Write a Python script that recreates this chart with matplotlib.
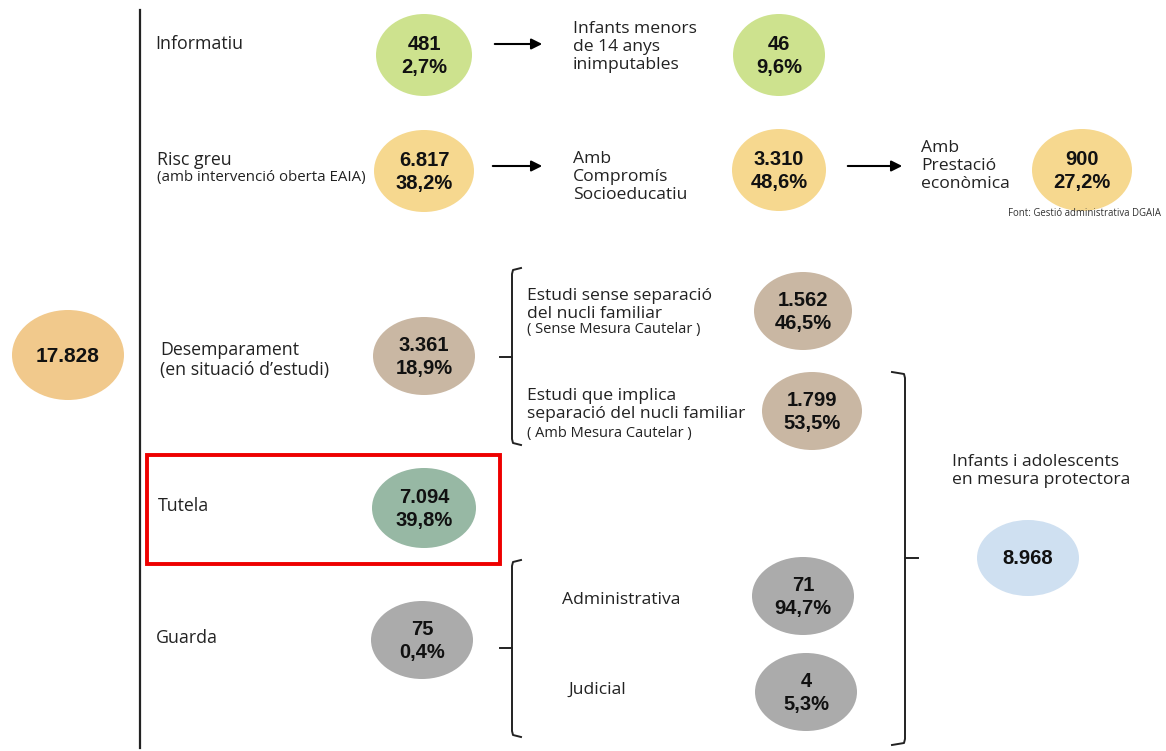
#!/usr/bin/env python3

import matplotlib.pyplot as plt
from matplotlib.patches import Ellipse, Rectangle

# ---- data ---------------------------------------------------------------
total = '17.828'
node_values = ['481', '46', '6.817', '3.310', '900', '3.361', '1.562', '1.799',
               '7.094', '75', '71', '4', '8.968']
node_pcts = ['2,7%', '9,6%', '38,2%', '48,6%', '27,2%', '18,9%', '46,5%', '53,5%',
             '39,8%', '0,4%', '94,7%', '5,3%', '']
node_colors = ['#cde28e', '#cde28e', '#f6d88f', '#f6d88f', '#f6d88f', '#c9b7a3',
               '#c9b7a3', '#c9b7a3', '#97b8a4', '#ababab', '#ababab', '#ababab',
               '#cfe0f1']

main_labels = ['Informatiu', 'Risc greu', 'Desemparament\n(en situació d\u2019estudi)',
               'Tutela', 'Guarda']
main_sub = ['', '(amb intervenció oberta EAIA)', '', '', '']
sub_labels = ['Infants menors\nde 14 anys\ninimputables', 'Amb\nCompromís\nSocioeducatiu',
              'Amb\nPrestació\neconòmica', 'Administrativa', 'Judicial',
              'Infants i adolescents\nen mesura protectora']
estudi_labels = ['Estudi sense separació\ndel nucli familiar',
                 'Estudi que implica\nseparació del nucli familiar']
estudi_sub = ['( Sense Mesura Cautelar )', '( Amb Mesura Cautelar )']
source = 'Font: Gestió administrativa DGAIA'

# ---- layout (pixel space) -----------------------------------------------
node_xy = [(424, 55), (779, 55), (424, 171), (779, 170), (1082, 170), (424, 356),
           (803, 311), (812, 411), (424, 508), (422, 640), (803, 596), (806, 692),
           (1028, 558)]
node_wh = [(96, 82), (92, 82), (100, 82), (94, 82), (100, 82), (102, 78),
           (98, 78), (100, 78), (104, 80), (102, 78), (102, 78), (102, 78),
           (102, 76)]
main_xy = [(155, 44), (157, 160), (160, 360), (158, 506), (156, 638)]
sub_xy = [(573, 47), (573, 177), (921, 166), (562, 600), (568, 690), (952, 471)]
estudi_xy = [(527, 305), (527, 405)]
estudi_sub_xy = [(527, 329), (527, 433)]

FONT = ['Open Sans', 'DejaVu Sans']
BOLD = ['Liberation Sans', 'DejaVu Sans']
W, H = 1166, 751

fig = plt.figure(figsize=(W / 100, H / 100), dpi=100)
ax = fig.add_axes([0, 0, 1, 1])
ax.set_xlim(0, W)
ax.set_ylim(H, 0)
ax.axis('off')

# total node
ax.add_patch(Ellipse((68, 355), 112, 90, color='#f1c98c', lw=0))
ax.text(68, 356, total, ha='center', va='center', fontsize=15,
        fontweight='bold', family=BOLD, color='#111111')

# trunk line
ax.plot([140, 140], [10, 748], color='#222222', lw=1.6)

for (x, y), (w, h), v, p, c in zip(node_xy, node_wh, node_values, node_pcts, node_colors):
    ax.add_patch(Ellipse((x, y), w, h, color=c, lw=0))
    txt = v if not p else v + '\n' + p
    ax.text(x, y + 1, txt, ha='center', va='center', fontsize=14.5,
            fontweight='bold', family=BOLD, linespacing=1.28, color='#111111')

for (x, y), lab, sub in zip(main_xy, main_labels, main_sub):
    ax.text(x, y, lab, ha='left', va='center', fontsize=12.8, family=FONT,
            linespacing=1.1, color='#222222')
    if sub:
        ax.text(x, y + 18, sub, ha='left', va='center', fontsize=10.8,
                family=FONT, color='#222222')

for (x, y), lab in zip(sub_xy, sub_labels):
    ax.text(x, y, lab, ha='left', va='center', fontsize=12.6, family=FONT,
            linespacing=1.15, color='#222222')

for (x, y), lab, sub in zip(estudi_xy, estudi_labels, estudi_sub):
    ax.text(x, y, lab, ha='left', va='center', fontsize=12.6, family=FONT,
            linespacing=1.2, color='#222222')
for (x, y), sub in zip(estudi_sub_xy, estudi_sub):
    ax.text(x, y, sub, ha='left', va='center', fontsize=10.5, family=FONT,
            color='#222222')

ax.text(1085, 214, source, ha='center', va='center', fontsize=6.9,
        family=FONT, color='#333333')

# arrows
for x0, x1, y in [(492, 545, 44), (490, 545, 166), (845, 905, 166)]:
    ax.annotate('', xy=(x1, y), xytext=(x0, y),
                arrowprops=dict(arrowstyle='-|>', color='black', lw=1.5,
                                mutation_scale=16))

# left brackets
for top, bot, mid in [(268, 445, 357), (560, 737, 648)]:
    ax.plot([521, 513, 512, 512, 500], [top, top + 2, top + 6, mid, mid],
            color='#222222', lw=1.4)
    ax.plot([521, 513, 512, 512], [bot, bot - 2, bot - 6, mid],
            color='#222222', lw=1.4)

# right bracket
ax.plot([892, 904, 905, 905, 918], [372, 374, 378, 558, 558], color='#222222', lw=1.4)
ax.plot([892, 904, 905, 905], [745, 743, 739, 558], color='#222222', lw=1.4)

# highlight box
ax.add_patch(Rectangle((147, 455), 353, 109, fill=False, edgecolor='#ee0000', lw=2.8))

fig.savefig('out.png', dpi=100)
